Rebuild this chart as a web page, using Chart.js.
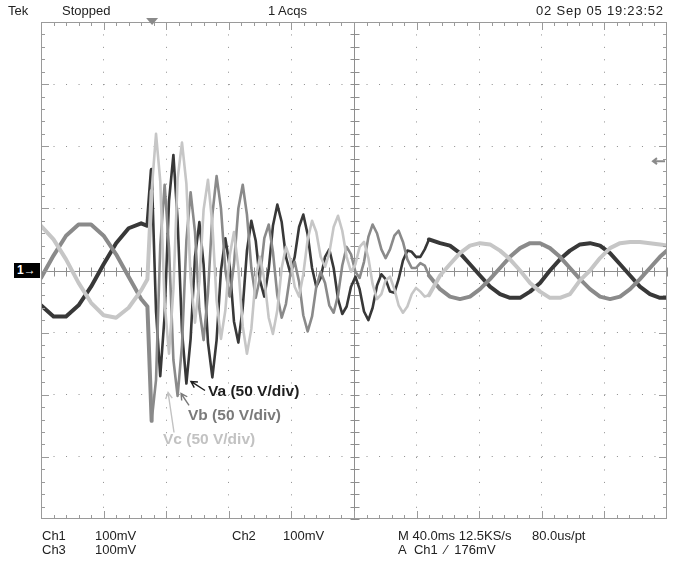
<!DOCTYPE html>
<html><head><meta charset="utf-8">
<script src="https://cdn.jsdelivr.net/npm/chart.js@4.4.1/dist/chart.umd.min.js"></script>
<style>
html,body{margin:0;padding:0;background:#fff;}
#wrap{position:relative;width:684px;height:563px;overflow:hidden;background:#fff;}
#c{position:absolute;left:0;top:0;}
.t{position:absolute;font-family:'Liberation Sans',Arial,sans-serif;font-size:13px;color:#222;white-space:nowrap;line-height:13px;}
.ann{position:absolute;font-family:'Liberation Sans',Arial,sans-serif;font-size:15.5px;font-weight:bold;white-space:nowrap;line-height:16px;}
#m1{position:absolute;left:14px;top:263px;width:26px;height:15px;background:#000;color:#fff;font-family:'Liberation Sans',Arial,sans-serif;font-size:12px;font-weight:bold;line-height:15px;padding-left:3px;box-sizing:border-box;}
</style></head><body>
<div id="wrap">
<canvas id="c" width="684" height="563"></canvas>
<div class="t" style="left:8px;top:4px">Tek</div>
<div class="t" style="left:62px;top:4px">Stopped</div>
<div class="t" style="left:268px;top:4px">1 Acqs</div>
<div class="t" style="left:536px;top:4px;letter-spacing:0.8px">02 Sep 05 19:23:52</div>
<div class="t" style="left:42px;top:529px">Ch1</div>
<div class="t" style="left:95px;top:529px">100mV</div>
<div class="t" style="left:232px;top:529px">Ch2</div>
<div class="t" style="left:283px;top:529px">100mV</div>
<div class="t" style="left:398px;top:529px">M 40.0ms 12.5KS/s</div>
<div class="t" style="left:532px;top:529px">80.0us/pt</div>
<div class="t" style="left:42px;top:543px">Ch3</div>
<div class="t" style="left:95px;top:543px">100mV</div>
<div class="t" style="left:398px;top:543px">A&nbsp; Ch1 &nbsp;&#x2215;&nbsp; 176mV</div>
<div id="m1">1&#x2192;</div>
<div class="ann" style="left:208px;top:383px;color:#1e1e1e">Va (50 V/div)</div>
<div class="ann" style="left:188px;top:407px;color:#7a7a7a">Vb (50 V/div)</div>
<div class="ann" style="left:163px;top:431px;color:#c2c2c2">Vc (50 V/div)</div>
</div>
<script>
// time axis: 40 ms/div, 10 divisions; voltage: 50 V/div, 8 divisions
const timeMs = [0,8,16,24,32,40,48,56,64,68,
70.7,73.5,76.2,79.0,81.8,84.6,87.3,90.1,92.9,95.6,98.4,101.2,103.9,106.7,109.5,112.2,115.0,117.8,120.6,123.3,126.1,128.9,131.6,134.4,137.2,139.9,142.7,145.5,148.2,151.0,153.8,156.5,159.3,162.1,164.9,167.6,170.4,173.2,175.9,178.7,181.5,184.2,187.0,189.8,192.5,195.3,198.1,200.9,203.6,206.4,209.2,211.9,214.7,217.5,220.2,223.0,225.8,228.5,231.3,234.1,236.9,239.6,242.4,245.2,247.9,
255.0,261.3,267.7,274.1,280.5,286.9,293.3,299.7,306.1,312.5,318.9,325.2,331.6,338.0,344.4,350.8,357.2,363.6,370.0,376.4,382.7,389.1,395.5,400];
const va = [-28,-37,-37,-28,-13,5,22,34,38,36,
81,-33,-85,-36,56,93,40,-49,-91,-55,11,39,5,-58,-86,-56,0,26,3,-41,-58,-30,16,40,24,-8,-21,1,36,53,39,11,-2,11,35,45,29,2,-13,-6,11,17,2,-23,-35,-29,-13,-5,-15,-33,-40,-30,-12,-3,-7,-17,-18,-7,8,16,15,11,11,17,25,
22,20,14,5,-4,-13,-19,-22,-22,-17,-10,0,9,16,21,22,20,14,5,-4,-13,-19,-22,-22];
const vb = [-6,12,28,37,37,28,13,-5,-23,-29,
-121,-88,20,69,18,-72,-101,-60,24,63,31,-31,-56,-18,45,76,50,0,-21,5,50,69,45,2,-22,-6,26,37,15,-20,-38,-27,-3,7,-9,-36,-49,-37,-13,-1,-10,-28,-34,-20,4,19,13,-1,-6,7,27,37,30,17,10,17,28,32,23,9,2,2,6,4,-4,
-15,-21,-23,-21,-15,-7,2,11,18,22,22,18,11,2,-7,-15,-21,-23,-21,-15,-7,2,11,16];
const vc = [36,25,9,-10,-26,-36,-38,-30,-16,-7,
64,110,72,-26,-67,-15,74,103,70,-6,-42,-9,49,73,37,-24,-55,-32,12,31,2,-45,-67,-47,-6,11,-7,-38,-51,-32,2,19,9,-13,-21,-3,25,40,31,11,3,14,35,44,32,11,-1,5,19,23,10,-11,-23,-19,-8,-5,-15,-28,-34,-29,-19,-14,-17,-21,-20,
-4,5,14,20,22,21,16,9,0,-10,-17,-22,-22,-19,-8,0,10,18,22,23,23,22,21,20];
const seriesNames = ['Va','Vb','Vc'];
const seriesColors = ['#383838','#8a8a8a','#c6c6c6'];
const transientStartMs = 69, transientEndMs = 250;
const triggerTimeMs = 71;
const triggerLevelV = 88;
// annotation arrows [from time, from volts, to time, to volts]
const arrows = [[104.8,-96.6,95.8,-89.3],[94.6,-108.6,89.5,-99],[85,-130.4,81.2,-98.2]];
const arrowColors = ['#1e1e1e','#7a7a7a','#c2c2c2'];

const pts = arr => timeMs.map((t,i)=>({x:t,y:arr[i]}));

const scope = {
  id:'scope',
  beforeDatasetsDraw(chart){
    const {ctx, chartArea:a, scales:{x,y}} = chart;
    const cx = Math.round(x.getPixelForValue(200))+0.5, cy = Math.round(y.getPixelForValue(0))+0.5;
    ctx.save();
    ctx.strokeStyle='#8e8e8e'; ctx.lineWidth=1;
    ctx.beginPath();
    ctx.moveTo(cx,a.top); ctx.lineTo(cx,a.bottom);
    ctx.moveTo(a.left,cy); ctx.lineTo(a.right,cy);
    for(let v=-200; v<=200; v+=10){const p=Math.round(y.getPixelForValue(v))+0.5; ctx.moveTo(cx-4,p); ctx.lineTo(cx+5,p);}
    for(let t=0; t<=400; t+=8){const p=Math.round(x.getPixelForValue(t))+0.5; ctx.moveTo(p,cy-4); ctx.lineTo(p,cy+5);}
    ctx.stroke();
    ctx.restore();
  },
  afterDraw(chart){
    const {ctx, chartArea:a, scales:{x,y}} = chart;
    ctx.save();
    ctx.strokeStyle='#9a9a9a'; ctx.lineWidth=1;
    ctx.strokeRect(a.left+0.5,a.top+0.5,a.right-a.left-1,a.bottom-a.top-1);
    ctx.beginPath();
    for(let t=8; t<400; t+=8){
      const p=Math.round(x.getPixelForValue(t))+0.5; const L=(t%40===0)?8:4;
      ctx.moveTo(p,a.top); ctx.lineTo(p,a.top+L);
      ctx.moveTo(p,a.bottom); ctx.lineTo(p,a.bottom-L);
    }
    for(let v=-190; v<200; v+=10){
      const p=Math.round(y.getPixelForValue(v))+0.5; const L=(v%50===0)?8:4;
      ctx.moveTo(a.left,p); ctx.lineTo(a.left+L,p);
      ctx.moveTo(a.right,p); ctx.lineTo(a.right-L,p);
    }
    ctx.stroke();
    const tp = x.getPixelForValue(triggerTimeMs);
    ctx.fillStyle='#8a8a8a';
    ctx.beginPath(); ctx.moveTo(tp-6,a.top-4); ctx.lineTo(tp+6,a.top-4); ctx.lineTo(tp,a.top+3); ctx.closePath(); ctx.fill();
    const tl = y.getPixelForValue(triggerLevelV);
    ctx.strokeStyle='#8a8a8a'; ctx.lineWidth=2;
    ctx.beginPath(); ctx.moveTo(a.right-2,tl); ctx.lineTo(a.right-14,tl);
    ctx.moveTo(a.right-10,tl-3); ctx.lineTo(a.right-14,tl); ctx.lineTo(a.right-10,tl+3); ctx.stroke();
    ctx.lineWidth=1.4;
    arrows.forEach((r,i)=>{
      const x0=x.getPixelForValue(r[0]), y0=y.getPixelForValue(r[1]);
      const x1=x.getPixelForValue(r[2]), y1=y.getPixelForValue(r[3]);
      const ang=Math.atan2(y1-y0,x1-x0);
      ctx.strokeStyle=arrowColors[i];
      ctx.beginPath(); ctx.moveTo(x0,y0); ctx.lineTo(x1,y1);
      ctx.moveTo(x1-7*Math.cos(ang-0.5),y1-7*Math.sin(ang-0.5)); ctx.lineTo(x1,y1);
      ctx.lineTo(x1-7*Math.cos(ang+0.5),y1-7*Math.sin(ang+0.5));
      ctx.stroke();
    });
    ctx.restore();
  }
};

const series = [vc, vb, va];
const order = [2,1,0];
new Chart(document.getElementById('c'), {
  type:'line',
  data:{ datasets: order.map((si,j)=>({
    label: seriesNames[si], data: pts(series[j]),
    borderColor: seriesColors[si], borderWidth: 4, pointRadius:0, tension:0, fill:false,
    borderJoinStyle:'round', borderCapStyle:'round',
    segment:{ borderWidth: s => (s.p0.parsed.x>=transientStartMs && s.p1.parsed.x<=transientEndMs) ? 2.6 : 4 }
  })) },
  options:{
    responsive:false, animation:false, devicePixelRatio:1,
    layout:{padding:{left:41,right:17,top:22,bottom:44}},
    plugins:{legend:{display:false}, tooltip:{enabled:false}},
    scales:{
      x:{type:'linear', min:0, max:400,
         ticks:{display:false, stepSize:40}, border:{display:false, dash:[1,11.43]},
         grid:{drawTicks:false, color:c=>(c.tick && (c.tick.value===0||c.tick.value===200||c.tick.value===400))?'rgba(0,0,0,0)':'#8e8e8e'}},
      y:{type:'linear', min:-200, max:200,
         ticks:{display:false, stepSize:50}, border:{display:false, dash:[1,11.52]},
         grid:{drawTicks:false, color:c=>(c.tick && (c.tick.value===0||Math.abs(c.tick.value)===200))?'rgba(0,0,0,0)':'#8e8e8e'}}
    }
  },
  plugins:[scope]
});
</script>
</body></html>
